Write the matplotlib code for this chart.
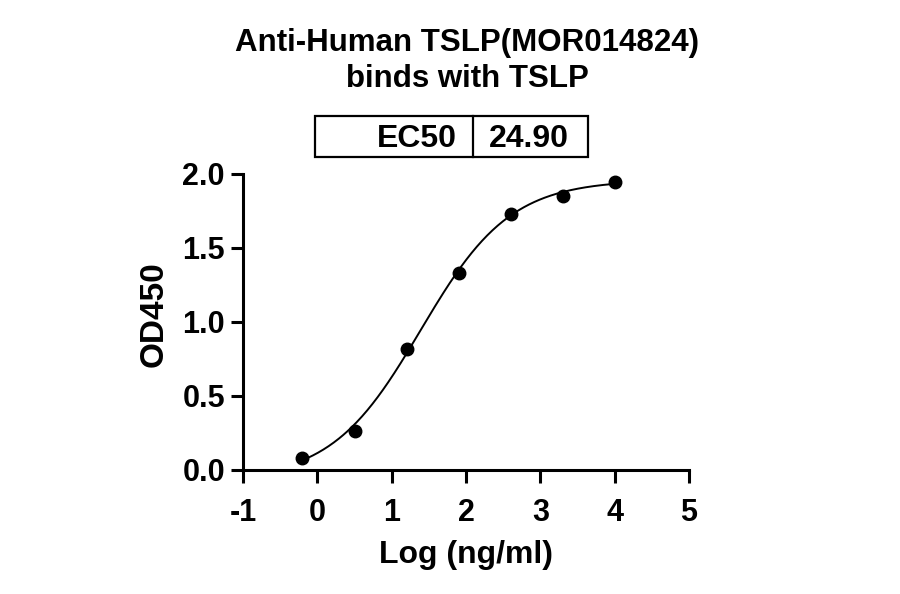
import numpy as np
import matplotlib
matplotlib.use("Agg")
import matplotlib.pyplot as plt
from matplotlib.patches import Rectangle

plt.rcParams['font.family'] = ['Liberation Sans', 'DejaVu Sans']
plt.rcParams['font.weight'] = 'bold'

# Data
log_conc = [-0.2, 0.5, 1.2, 1.9, 2.6, 3.3, 4.0]
od450 = [0.083, 0.266, 0.818, 1.329, 1.73, 1.853, 1.946]
ec50_label = "EC50"
ec50_value = "24.90"
title_line1 = "Anti-Human TSLP(MOR014824)"
title_line2 = "binds with TSLP"
x_ticks = [-1, 0, 1, 2, 3, 4, 5]
y_ticks = [0.0, 0.5, 1.0, 1.5, 2.0]

# 4PL fit (grid search)
xd = np.array(log_conc); yd = np.array(od450)
def f4(x, b, t, c, h):
    return b + (t - b) / (1 + 10 ** ((c - x) * h))
B, T, C, H = np.meshgrid(np.linspace(-0.2, 0.1, 31), np.linspace(1.9, 2.1, 21),
                         np.linspace(1.2, 1.6, 41), np.linspace(0.5, 1.3, 41),
                         indexing='ij')
res = np.zeros_like(B)
for xi, yi in zip(xd, yd):
    res += (f4(xi, B, T, C, H) - yi) ** 2
i = np.unravel_index(np.argmin(res), res.shape)
b, t, c, h = B[i], T[i], C[i], H[i]
xf = np.linspace(xd.min(), xd.max(), 300)
yf = f4(xf, b, t, c, h)

fig = plt.figure(figsize=(9, 5.94), dpi=100)
ax = fig.add_axes([0.27, 0.2088, 0.4956, 0.4983])
ax.plot(xf, yf, color='black', lw=1.4, clip_on=False)
ax.plot(log_conc, od450, 'o', color='black', ms=9, clip_on=False)

ax.set_xlim(-1, 5)
ax.set_ylim(0, 2.0)
ax.set_xticks(x_ticks)
ax.set_yticks(y_ticks)
ax.set_xticklabels([str(v) for v in x_ticks])
ax.set_yticklabels([f"{v:.1f}" for v in y_ticks])
for s in ['top', 'right']:
    ax.spines[s].set_visible(False)
for s in ['left', 'bottom']:
    ax.spines[s].set_linewidth(2.2)
ax.tick_params(width=2.2, length=9, labelsize=22, direction='out')
ax.tick_params(axis='x', pad=11)
ax.tick_params(axis='y', pad=4)
for lab in ax.get_xticklabels() + ax.get_yticklabels():
    lab.set_fontweight('bold')
ax.set_xlabel("Log (ng/ml)", fontsize=23, fontweight='bold', va='top')
ax.set_ylabel("OD450", fontsize=24, fontweight='bold')
ax.xaxis.set_label_coords(0.5, -0.235)
ax.yaxis.set_label_coords(-0.165, 0.525)

tx = 467 / 900
fig.text(tx, 1 - 51 / 594, title_line1, ha='center', va='baseline',
         fontsize=22.5, fontweight='bold')
fig.text(tx, 1 - 87 / 594, title_line2, ha='center', va='baseline',
         fontsize=22.5, fontweight='bold')

# EC50 box
x0, x1, x2 = 0.1614, 0.5157, 0.7735
y0, y1 = 1.058, 1.196
ax.add_patch(Rectangle((x0, y0), x2 - x0, y1 - y0, transform=ax.transAxes,
                       fill=False, lw=1.6, ec='black', clip_on=False))
ax.plot([x1, x1], [y0, y1], transform=ax.transAxes, color='black', lw=1.6,
        clip_on=False)
yb = 1.090
ax.text(0.4787, yb, ec50_label, transform=ax.transAxes, ha='right',
        va='baseline', fontsize=23, fontweight='bold')
ax.text(0.641, yb, ec50_value, transform=ax.transAxes, ha='center',
        va='baseline', fontsize=23, fontweight='bold')

fig.savefig("out.png", dpi=100)
